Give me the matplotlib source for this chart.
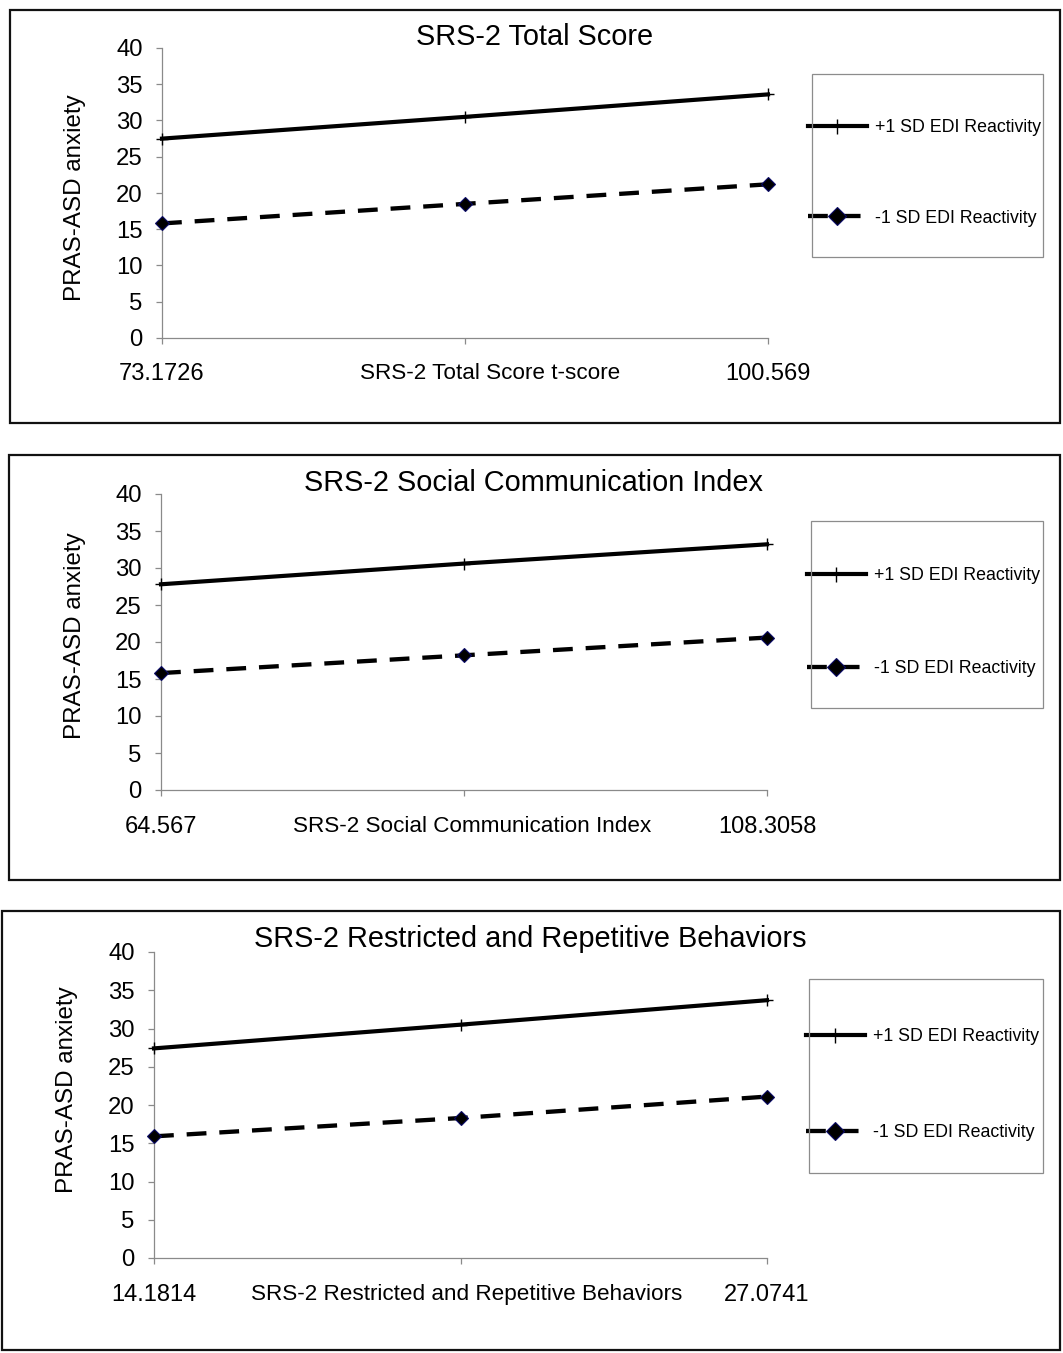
import matplotlib
matplotlib.use("Agg")
import matplotlib.pyplot as plt
from matplotlib.patches import Rectangle
from matplotlib.transforms import ScaledTranslation

plt.rcParams['font.family'] = ['Liberation Sans', 'DejaVu Sans']

# ---------------- data ----------------
titles = ["SRS-2 Total Score",
          "SRS-2 Social Communication Index",
          "SRS-2 Restricted and Repetitive Behaviors"]
x_low_labels = ["73.1726", "64.567", "14.1814"]
x_mid_labels = ["SRS-2 Total Score t-score",
                "SRS-2 Social Communication Index",
                "SRS-2 Restricted and Repetitive Behaviors"]
x_high_labels = ["100.569", "108.3058", "27.0741"]
y_label = "PRAS-ASD anxiety"
series_names = ["+1 SD EDI Reactivity", "-1 SD EDI Reactivity"]

high_total = [27.5, 30.5, 33.6]
low_total = [15.8, 18.5, 21.2]
high_social = [27.8, 30.6, 33.2]
low_social = [15.8, 18.2, 20.6]
high_rrb = [27.4, 30.5, 33.7]
low_rrb = [15.9, 18.3, 21.1]

high_series = [high_total, high_social, high_rrb]
low_series = [low_total, low_social, low_rrb]
y_ticks = [0, 5, 10, 15, 20, 25, 30, 35, 40]

# ---------------- layout (pixels) ----------------
W, H = 1063, 1353
fig = plt.figure(figsize=(W / 100, H / 100), dpi=100)

def fx(px):
    return px / W

def fy(py):
    return 1 - py / H

panel_boxes = [(9.5, 9.5, 1060, 423), (9, 455, 1060, 880), (1.5, 911, 1060, 1350)]
axes_px = [(162, 48, 768, 338), (161, 494, 767, 790), (154, 952, 767, 1258)]
title_pos = [(535, 37), (534, 483), (530, 939)]
legend_box = [(812, 74, 1043, 257), (811, 521, 1043, 708), (809, 979, 1043, 1173)]
legend_anchor = [(808, 173), (807, 622), (806, 1084.5)]
legend_spacing = [4.12, 4.3, 4.42]
x_label_pad = [14, 15, 14.5]
mid_offset_px = [25, 8, 6]
ylabel_x = [86, 86, 78]
ylabel_yfrac = [0.483, 0.52, 0.549]

axis_gray = '#8a8a8a'

for i in range(3):
    # outer panel border
    x0, y0, x1, y1 = panel_boxes[i]
    fig.patches.append(Rectangle((fx(x0), fy(y1)), fx(x1 - x0), (y1 - y0) / H,
                                 transform=fig.transFigure, fill=False,
                                 edgecolor='#111111', linewidth=1.6, zorder=0))
    # legend frame
    lx0, ly0, lx1, ly1 = legend_box[i]
    fig.patches.append(Rectangle((fx(lx0), fy(ly1)), fx(lx1 - lx0), (ly1 - ly0) / H,
                                 transform=fig.transFigure, fill=False,
                                 edgecolor='#8c8c8c', linewidth=0.9, zorder=1))

    l, t, r, b = axes_px[i]
    ax = fig.add_axes([fx(l), fy(b), fx(r - l), (b - t) / H])
    xs = [0, 1, 2]
    ax.plot(xs, high_series[i], color='black', linewidth=3.0, marker='+',
            markersize=9, markeredgewidth=1.0, clip_on=False, zorder=3,
            label=series_names[0])
    ax.plot(xs, low_series[i], color='black', linewidth=3.1, linestyle=(0, (4.6, 3.0)),
            marker='D', markersize=7.4, markerfacecolor='black',
            markeredgecolor='#0a0a66', markeredgewidth=0.8, clip_on=False,
            zorder=3, label=series_names[1])
    ax.set_xlim(0, 2)
    ax.set_ylim(0, 40)
    ax.set_yticks(y_ticks)
    ax.set_xticks(xs)
    ax.set_xticklabels([x_low_labels[i], x_mid_labels[i], x_high_labels[i]])
    for s in ['top', 'right']:
        ax.spines[s].set_visible(False)
    for s in ['left', 'bottom']:
        ax.spines[s].set_color(axis_gray)
        ax.spines[s].set_linewidth(0.9)
    ax.tick_params(axis='both', colors=axis_gray, length=4, width=0.9,
                   direction='out', labelcolor='black')
    ax.tick_params(axis='y', labelsize=17.2, pad=10)
    ax.tick_params(axis='x', labelsize=17, pad=x_label_pad[i])
    mid_lab = ax.get_xticklabels()[1]
    mid_lab.set_fontsize(16.2)
    mid_lab.set_transform(mid_lab.get_transform() +
                          ScaledTranslation(mid_offset_px[i] / 100, 0, fig.dpi_scale_trans))
    ax.set_ylabel(y_label, fontsize=17.4)
    ax.yaxis.set_label_coords((ylabel_x[i] - l) / (r - l), ylabel_yfrac[i])

    fig.text(fx(title_pos[i][0]), fy(title_pos[i][1]), titles[i], fontsize=20.8,
             ha='center', va='center')

    ax_x, ax_y = legend_anchor[i]
    ax.legend(loc='center left', bbox_to_anchor=(fx(ax_x), fy(ax_y)),
              bbox_transform=fig.transFigure, frameon=False, fontsize=12.8,
              borderpad=0, borderaxespad=0, handlelength=3.3, handletextpad=0.45,
              labelspacing=legend_spacing[i], numpoints=1, markerscale=1.2)

fig.savefig("out.png", dpi=100)
